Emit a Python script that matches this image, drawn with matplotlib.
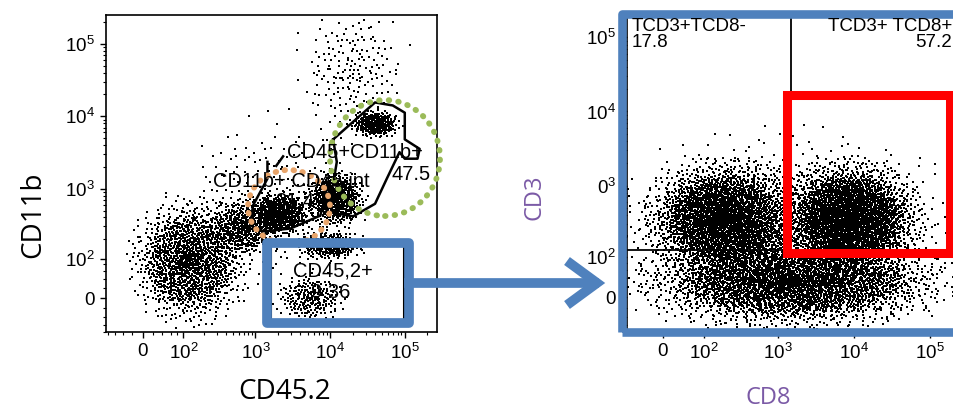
import numpy as np
import matplotlib
matplotlib.use("Agg")
import matplotlib.pyplot as plt
from matplotlib.patches import Rectangle, Ellipse
from matplotlib.lines import Line2D

plt.rcParams["font.family"] = ["Liberation Sans", "DejaVu Sans"]
plt.rcParams["mathtext.default"] = "regular"

# ---- data ---------------------------------------------------------------
# dot-plot populations: centre values, half-widths (decades), number of events
left_centres = [(125, 91), (740, 300), (2150, 455), (11700, 725), (40000, 7800),
                (20000, 40000), (5400, 0), (10000, 160), (1500, 600)]
left_spread = [(0.62, 0.68), (0.42, 0.32), (0.34, 0.24), (0.32, 0.32), (0.27, 0.15),
               (0.60, 0.80), (0.38, 0.28), (0.38, 0.16), (1.00, 1.00)]
left_counts = [1500, 500, 550, 600, 300, 200, 230, 300, 250]

right_centres = [(195, 353), (8900, 353), (1580, 31), (1250, 190)]
right_spread = [(0.80, 0.62), (0.72, 0.62), (1.55, 0.48), (2.00, 1.10)]
right_counts = [2700, 2900, 3300, 1600]

# gates (CD45.2, CD11b)
gate_big = [(11000, 4800), (12300, 2350), (11000, 1170), (8900, 480), (20400, 415),
            (40000, 620), (57500, 1380), (85000, 3200), (100000, 2600), (148000, 2600),
            (158000, 3550), (100000, 4800), (100000, 11200), (69000, 14100),
            (40000, 15500), (11000, 4800)]
gate_int = [(1450, 2350), (1450, 1380), (930, 590), (850, 310), (1290, 255),
            (2950, 280), (7400, 425), (8500, 720), (9300, 1170)]
gate_int_tick = [(2350, 2800), (1900, 2070)]
gate_cd45 = (1630, 97000, -53, 160)
quad_cd8, quad_cd3 = 1500, 130

tick_vals = [0, 1e2, 1e3, 1e4, 1e5]
tick_labels = ["0", "$10^2$", "$10^3$", "$10^4$", "$10^5$"]
right_ylabels = ["0", "$10^2$", "$0^3$", "$10^4$", "$10^5$"]
minor_vals = ([-80, -60, -40, -20, 20, 40, 60, 80] +
              [m * 10 ** e for e in (2, 3, 4) for m in range(2, 10)] + [2e5])

W = 31.0


def fwd(v):
    return np.log10(W) + np.arcsinh(np.asarray(v, float) / (2 * W)) / np.log(10)


def inv(u):
    return 2 * W * np.sinh((np.asarray(u, float) - np.log10(W)) * np.log(10))


def halton(i, base):
    out = np.zeros(len(i))
    f = 1.0
    i = i.copy()
    while np.any(i > 0):
        f /= base
        out += f * (i % base)
        i //= base
    return out


def events(centres, spread, counts):
    # low-discrepancy (Halton) fill of each population, soft elliptical profile
    xs, ys = [], []
    off = 11
    for (cx, cy), (sx, sy), n in zip(centres, spread, counts):
        i = np.arange(off, off + n)
        off += n
        a = halton(i, 2)
        r = a ** 0.62 * (1 + 0.4 * a ** 10)
        t = 2 * np.pi * halton(i, 3)
        xs.append(inv(fwd(cx) + sx * r * np.cos(t)))
        ys.append(inv(fwd(cy) + sy * r * np.sin(t)))
    return np.concatenate(xs), np.concatenate(ys)


fig = plt.figure(figsize=(9.54, 4.19), dpi=100)
FW, FH = 954.0, 419.0


def fx(px):
    return px / FW


def fy(py):
    return 1 - py / FH


def style_axis(ax, xlim, ylim, ylabels):
    ax.set_xscale("function", functions=(fwd, inv))
    ax.set_yscale("function", functions=(fwd, inv))
    ax.set_xlim(*xlim)
    ax.set_ylim(*ylim)
    ax.set_xticks(tick_vals)
    ax.set_xticklabels(tick_labels)
    ax.set_yticks(tick_vals)
    ax.set_yticklabels(ylabels)
    ax.set_xticks(minor_vals, minor=True)
    ax.set_yticks(minor_vals, minor=True)
    ax.tick_params(which="major", length=4, width=1, labelsize=13.5, pad=4)
    ax.tick_params(which="minor", length=2.5, width=0.8)
    for s in ax.spines.values():
        s.set_linewidth(1.2)


# ---- left dot plot ------------------------------------------------------
ax1 = fig.add_axes([fx(106), fy(332), fx(331), 317 / FH])
style_axis(ax1, (-86, 2.7e5), (-73, 2.49e5), tick_labels)
x, y = events(left_centres, left_spread, left_counts)
ax1.scatter(x, y, s=1.2, marker="s", c="black", linewidths=0)
gx, gy = zip(*gate_big)
ax1.plot(gx, gy, color="black", lw=1.8)
gx, gy = zip(*gate_int)
ax1.plot(gx, gy, color="black", lw=1.8)
gx, gy = zip(*gate_int_tick)
ax1.plot(gx, gy, color="black", lw=1.8)
x0, x1, y0, y1 = gate_cd45
ax1.plot([x0, x0, x1, x1], [y0, y1, y1, y0], color="black", lw=1.5)

fs = 14.5
fig.text(fx(287), fy(153), "CD45+CD11b+", fontsize=fs, va="center")
fig.text(fx(431), fy(174), "47.5", fontsize=fs, va="center", ha="right")
fig.text(fx(213), fy(181), "CD11b+ CD45 int", fontsize=fs, va="center")
fig.text(fx(295), fy(201), "31.4", fontsize=fs, va="center", ha="center")
fig.text(fx(293), fy(271), "CD45,2+", fontsize=fs, va="center")
fig.text(fx(311), fy(293), "9.36", fontsize=fs, va="center")

fig.text(fx(285), fy(392), "CD45.2", fontsize=20, family="Open Sans",
         ha="center", va="center")
fig.text(fx(33), fy(215), "CD11b", fontsize=20, family="Open Sans",
         ha="center", va="center", rotation=90)

# dotted population circles
fig.patches.append(Ellipse((fx(289), fy(207)), 82 / FW, 74 / FH, fill=False,
                           ec="#E8A46A", lw=4.2, ls=(0, (0.1, 1.45)), capstyle="round",
                           transform=fig.transFigure))
fig.patches.append(Ellipse((fx(385), fy(158)), 110 / FW, 116 / FH, fill=False,
                           ec="#9BBB59", lw=4.2, ls=(0, (0.1, 1.55)), capstyle="round",
                           transform=fig.transFigure))

blue = "#4F81BD"
fig.patches.append(Rectangle((fx(267), fy(323)), 142 / FW, 80 / FH, fill=False,
                             ec=blue, lw=7, joinstyle="round",
                             transform=fig.transFigure))

# ---- right dot plot -----------------------------------------------------
ax2 = fig.add_axes([fx(627), fy(332), fx(337), 317 / FH])
style_axis(ax2, (-68, 2.8e5), (-62, 1.78e5), right_ylabels)
x, y = events(right_centres, right_spread, right_counts)
ax2.scatter(x, y, s=1.2, marker="s", c="black", linewidths=0)
ax2.plot([-1e3, 1e6], [quad_cd3, quad_cd3], color="black", lw=1.3)
ax2.plot([quad_cd8, quad_cd8], [quad_cd3, 1e6], color="black", lw=1.3)

fs2 = 13.5
fig.text(fx(632), fy(18), "TCD3+TCD8-\n17.8", fontsize=fs2, va="top",
         linespacing=0.95)
fig.text(fx(952), fy(18), "TCD3+ TCD8+\n57.2", fontsize=fs2, va="top", ha="right",
         multialignment="right", linespacing=0.95)

purple = "#7B5AA6"
fig.text(fx(768), fy(398), "CD8", fontsize=17, family="Open Sans", color=purple,
         ha="center", va="center")
fig.text(fx(535), fy(197), "CD3", fontsize=17, family="Open Sans", color=purple,
         ha="center", va="center", rotation=90)

# overlay frames
fig.patches.append(Rectangle((fx(622), fy(332)), 400 / FW, 318 / FH, fill=False,
                             ec=blue, lw=6.2, joinstyle="round",
                             transform=fig.transFigure))
fig.patches.append(Rectangle((fx(787), fy(253)), 163 / FW, 158 / FH, fill=False,
                             ec="#FF0000", lw=6.5, joinstyle="miter",
                             transform=fig.transFigure))

# arrow between the panels
fig.lines.append(Line2D([fx(409), fx(594)], [fy(283), fy(283)], color=blue, lw=7,
                        transform=fig.transFigure))
fig.lines.append(Line2D([fx(567), fx(597), fx(567)], [fy(261), fy(283), fy(305)],
                        color=blue, lw=7, solid_joinstyle="miter",
                        solid_capstyle="butt", transform=fig.transFigure))

fig.savefig("out.png", dpi=100)
